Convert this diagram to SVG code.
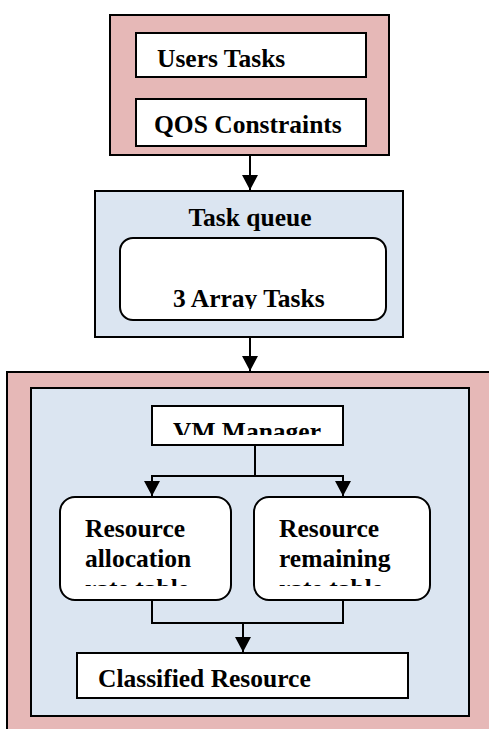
<svg xmlns="http://www.w3.org/2000/svg" width="489" height="729" viewBox="0 0 489 729">
<style>
.pink{fill:#e6b8b7;stroke:#000;stroke-width:2}
.blue{fill:#dbe5f1;stroke:#000;stroke-width:2}
.white{fill:#fff;stroke:#000;stroke-width:2}
.t{font-family:'Liberation Serif',serif;font-weight:bold;font-size:25.5px;fill:#000}
.c{fill:none;stroke:#000;stroke-width:2}
</style>
<defs>
<marker id="ah" markerUnits="userSpaceOnUse" markerWidth="16" markerHeight="16" viewBox="0 0 16 16" refX="15" refY="8" orient="auto">
<path d="M0,0 L15,8 L0,16 Z" fill="#000"/>
</marker>
<clipPath id="cQos"><rect x="136" y="99" width="230" height="38"/></clipPath>
<clipPath id="cArr"><rect x="120" y="238" width="266" height="71"/></clipPath>
<clipPath id="cVm"><rect x="152" y="406" width="191" height="29"/></clipPath>
<clipPath id="cL"><rect x="60" y="497" width="171" height="89"/></clipPath>
<clipPath id="cR"><rect x="254" y="497" width="176" height="89"/></clipPath>
</defs>

<g id="user-input">
<rect class="pink" x="110" y="15" width="279" height="140"/>
</g>
<g id="users-tasks">
<rect class="white" x="136" y="33" width="230" height="44"/>
<text class="t" x="157" y="67">Users Tasks</text>
</g>
<g id="qos-constraints">
<rect class="white" x="136" y="99" width="230" height="47"/>
<text class="t" x="154" y="133" clip-path="url(#cQos)">QOS Constraints</text>
</g>

<g id="task-queue">
<rect class="blue" x="95" y="191" width="308" height="146"/>
<text class="t" x="250" y="226" text-anchor="middle">Task queue</text>
</g>
<g id="array-tasks">
<rect class="white" x="120" y="238" width="266" height="82" rx="13"/>
<text class="t" x="173" y="307" clip-path="url(#cArr)">3 Array Tasks</text>
</g>

<g id="resource-system">
<rect class="pink" x="7" y="372" width="490" height="370"/>
<rect class="blue" x="31" y="388" width="438" height="328"/>
</g>
<g id="vm-manager">
<rect class="white" x="152" y="406" width="191" height="39"/>
<text class="t" x="173" y="440" clip-path="url(#cVm)">VM Manager</text>
</g>
<g id="allocation-table">
<rect class="white" x="60" y="497" width="171" height="103" rx="15"/>
<g clip-path="url(#cL)">
<text class="t" x="85" y="537">Resource</text>
<text class="t" x="85" y="567">allocation</text>
<text class="t" x="85" y="597">rate table</text>
</g>
</g>
<g id="remaining-table">
<rect class="white" x="254" y="497" width="176" height="103" rx="15"/>
<g clip-path="url(#cR)">
<text class="t" x="279" y="537">Resource</text>
<text class="t" x="279" y="567">remaining</text>
<text class="t" x="279" y="597">rate table</text>
</g>
</g>
<g id="classified-resource">
<rect class="white" x="77" y="653" width="331" height="45"/>
<text class="t" x="98" y="687">Classified Resource</text>
</g>

<g id="connectors">
<line class="c" x1="250" y1="155" x2="250" y2="190" marker-end="url(#ah)"/>
<line class="c" x1="250" y1="337" x2="250" y2="371" marker-end="url(#ah)"/>
<line class="c" x1="255" y1="445" x2="255" y2="476"/>
<line class="c" x1="151" y1="476" x2="344" y2="476"/>
<line class="c" x1="152" y1="476" x2="152" y2="496" marker-end="url(#ah)"/>
<line class="c" x1="343" y1="476" x2="343" y2="496" marker-end="url(#ah)"/>
<polyline class="c" points="152,600 152,623 343,623 343,600"/>
<line class="c" x1="243" y1="623" x2="243" y2="652" marker-end="url(#ah)"/>
</g>
</svg>
